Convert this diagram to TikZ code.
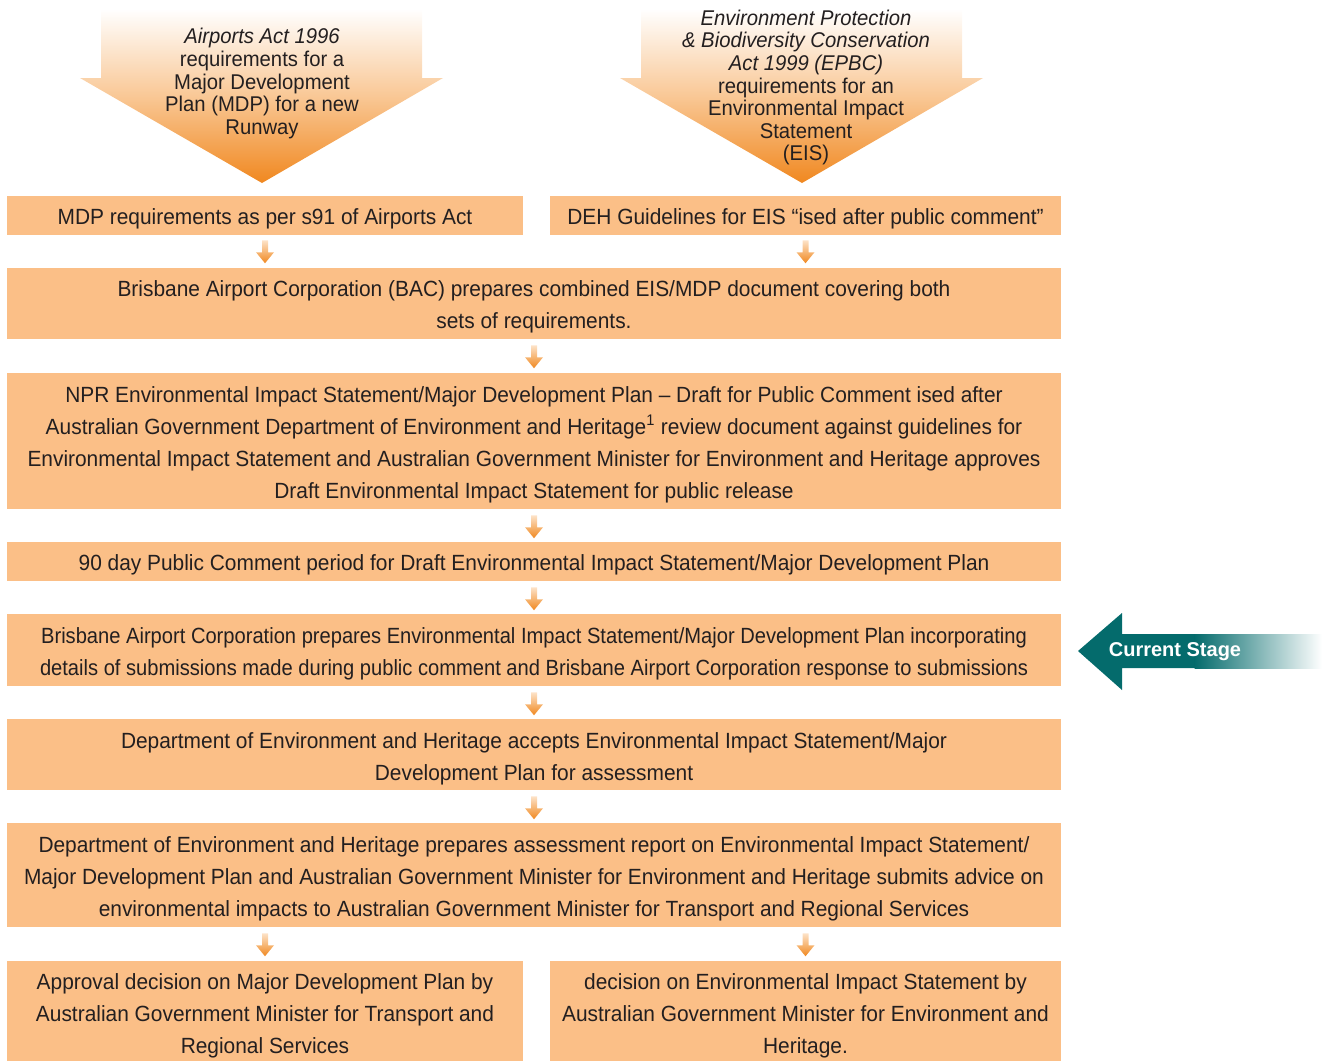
\documentclass[tikz,border=0pt]{standalone}
\usepackage{fontspec}
\setmainfont[FakeStretch=0.95]{Liberation Sans}
\newfontfamily\narrowfont[FakeStretch=0.915]{Liberation Sans}
\newfontfamily\plainsans{Liberation Sans}
\usetikzlibrary{calc}
\definecolor{boxfill}{HTML}{FBBF87}
\definecolor{arrorange}{HTML}{F08820}
\definecolor{arrlight}{HTML}{FDE3C8}
\definecolor{tealc}{HTML}{046B6C}
\definecolor{textc}{HTML}{231F20}
\tikzset{
  stepbox/.style={fill=boxfill, draw=none, inner sep=0pt},
  steptext/.style={inner sep=0pt, align=center, text=textc,
    font=\fontsize{16.5}{24}\selectfont},
  headtext/.style={inner sep=0pt, align=center, text=textc, font=\fontsize{16}{17.2}\selectfont},
  downarr/.pic={\shade[top color=arrlight, bottom color=arrorange]
    (-3,0) -- (3,0) -- (3,12) -- (9,12) -- (0,23) -- (-9,12) -- (-3,12) -- cycle;},
}
\begin{document}
\begin{tikzpicture}[x=0.75pt,y=-0.75pt]
\useasboundingbox (0,0) rectangle (1324,1061);
% big arrows
\shade[top color=white, bottom color=arrorange, middle color=arrlight!70!arrorange]
  (101,9) -- (422,9) -- (422,78) -- (443,78) -- (262,183) -- (80,78) -- (101,78) -- cycle;
\node[headtext] (h1) at (262,83.5) {\textit{Airports Act 1996}\\requirements for a\\Major Development\\Plan (MDP) for a new\\Runway};
\shade[top color=white, bottom color=arrorange, middle color=arrlight!70!arrorange]
  (641,9) -- (962,9) -- (962,78) -- (983,78) -- (802,183) -- (620,78) -- (641,78) -- cycle;
\node[headtext, font=\fontsize{16}{16.9}\selectfont] (h2) at (806,87.5) {\textit{Environment Protection}\\\textit{\& Biodiversity Conservation}\\\textit{Act 1999 (EPBC)}\\requirements for an\\Environmental Impact\\Statement\\(EIS)};
% boxes
\node[stepbox, minimum width=387pt, minimum height=29.25pt] (b1) at (265,215.5) {};
\node[stepbox, minimum width=383.25pt, minimum height=29.25pt] (b2) at (805.5,215.5) {};
\node[stepbox, minimum width=790.5pt, minimum height=53.25pt] (b3) at (534,303.5) {};
\node[stepbox, minimum width=790.5pt, minimum height=102pt] (b4) at (534,441) {};
\node[stepbox, minimum width=790.5pt, minimum height=29.25pt] (b5) at (534,561.5) {};
\node[stepbox, minimum width=790.5pt, minimum height=54pt] (b6) at (534,650) {};
\node[stepbox, minimum width=790.5pt, minimum height=53.25pt] (b7) at (534,754.5) {};
\node[stepbox, minimum width=790.5pt, minimum height=78pt] (b8) at (534,875) {};
\node[stepbox, minimum width=387pt, minimum height=75pt] (b9) at (265,1011) {};
\node[stepbox, minimum width=383.25pt, minimum height=75pt] (b10) at (805.5,1011) {};
% box texts
\node[steptext] (t1) at ($(b1.center)+(0,3.5)$) {MDP requirements as per s91 of Airports Act};
\node[steptext] (t2) at ($(b2.center)+(0,3.5)$) {DEH Guidelines for EIS “ised after public comment”};
\node[steptext] (t3) at ($(b3.center)+(0,3.5)$)
  {Brisbane Airport Corporation (BAC) prepares combined EIS/MDP document covering both\\sets of requirements.};
\node[steptext] (t4) at ($(b4.center)+(0,3.5)$)
  {NPR Environmental Impact Statement/Major Development Plan – Draft for Public Comment ised after\\
   Australian Government Department of Environment and Heritage\textsuperscript{1} review document against guidelines for\\
   Environmental Impact Statement and Australian Government Minister for Environment and Heritage approves\\
   Draft Environmental Impact Statement for public release};
\node[steptext] (t5) at ($(b5.center)+(0,3.5)$)
  {90 day Public Comment period for Draft Environmental Impact Statement/Major Development Plan};
\node[steptext, font=\narrowfont\fontsize{16.5}{24}\selectfont] (t6) at ($(b6.center)+(0,4)$)
  {Brisbane Airport Corporation prepares Environmental Impact Statement/Major Development Plan incorporating\\
   details of submissions made during public comment and Brisbane Airport Corporation response to submissions};
\node[steptext] (t7) at ($(b7.center)+(0,4)$)
  {Department of Environment and Heritage accepts Environmental Impact Statement/Major\\Development Plan for assessment};
\node[steptext] (t8) at ($(b8.center)+(0,4)$)
  {Department of Environment and Heritage prepares assessment report on Environmental Impact Statement/\\
   Major Development Plan and Australian Government Minister for Environment and Heritage submits advice on\\
   environmental impacts to Australian Government Minister for Transport and Regional Services};
\node[steptext] (t9) at ($(b9.center)+(0,5)$)
  {Approval decision on Major Development Plan by\\Australian Government Minister for Transport and\\Regional Services};
\node[steptext] (t10) at ($(b10.center)+(0,5)$)
  {decision on Environmental Impact Statement by\\Australian Government Minister for Environment and\\Heritage.};
% small arrows
\pic at ($(b1.south)+(0,5)$) {downarr};
\pic at ($(b2.south)+(0,5)$) {downarr};
\pic at ($(b3.south)+(0,6)$) {downarr};
\pic at ($(b4.south)+(0,6)$) {downarr};
\pic at ($(b5.south)+(0,6)$) {downarr};
\pic at ($(b6.south)+(0,6)$) {downarr};
\pic at ($(b7.south)+(0,6)$) {downarr};
\pic at ($(b8.south -| b9.north)+(0,6)$) {downarr};
\pic at ($(b8.south -| b10.north)+(0,6)$) {downarr};
% current stage arrow
\fill[tealc] (1078,651) -- (1122,613) -- (1122,634) -- (1195,634) -- (1195,668) -- (1122,668) -- (1122,690) -- cycle;
\shade[left color=tealc, right color=white] (1194.5,634) rectangle (1322,668);
\node[text=white, inner sep=0pt, font=\plainsans\bfseries\fontsize{15}{18}\selectfont] (cs) at (1175,652) {Current Stage};
\end{tikzpicture}
\end{document}
